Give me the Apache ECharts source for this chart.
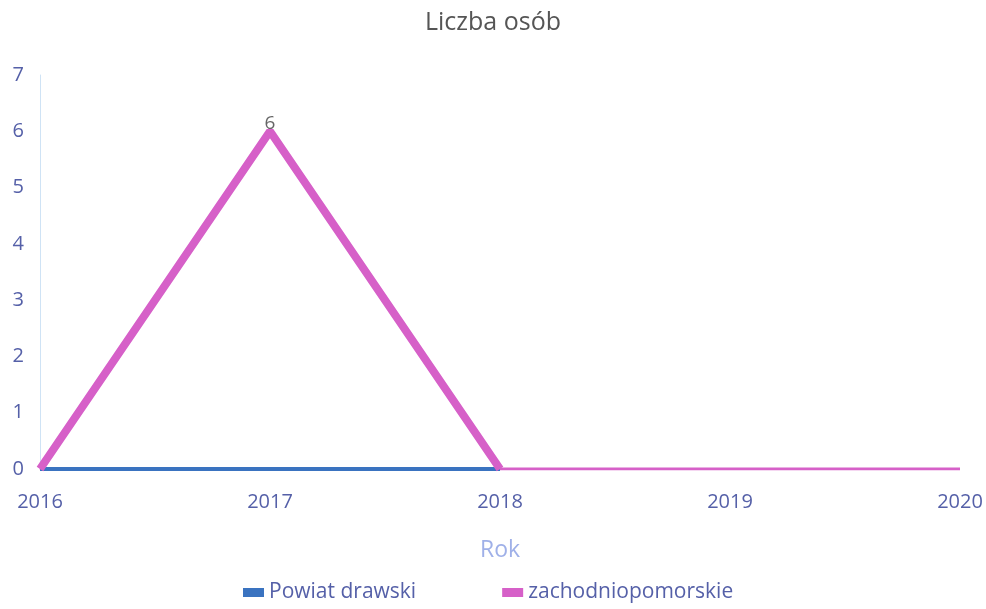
<!DOCTYPE html>
<html><head><meta charset="utf-8">
<script src="https://cdn.jsdelivr.net/npm/echarts@6/dist/echarts.min.js"></script>
<style>html,body{margin:0;padding:0;background:#fff}#c{width:986px;height:609px}</style>
</head><body><div id="c"></div>
<script>
const years = ['2016','2017','2018','2019','2020'];
const powiat = [0, 0, 0, null, null];
const zachodnioA = [0, 6, 0, null, null];
const zachodnioB = [null, null, 0, 0, 0];
const yTicks = [0,1,2,3,4,5,6,7];

const chart = echarts.init(document.getElementById('c'));
chart.setOption({
  animation:false,
  title:{text:'Liczba osób', left:'center', top:5, textStyle:{fontFamily:'Open Sans', fontSize:25, fontWeight:'normal', color:'#555'}},
  grid:{left:40, right:26, top:75, bottom:140},
  legend:{bottom:1, left:238, itemGap:86, itemWidth:21, itemHeight:9, icon:'rect',
    data:['Powiat drawski','zachodniopomorskie'],
    textStyle:{fontFamily:'Open Sans', fontSize:21, color:'#5560a8'}},
  xAxis:{type:'category', data:years, boundaryGap:false, name:'Rok', nameLocation:'middle', nameGap:70,
    nameTextStyle:{fontFamily:'Open Sans', fontSize:23, color:'#9fb0e8'},
    axisLine:{show:false}, axisTick:{show:false},
    axisLabel:{fontFamily:'Open Sans', fontSize:20, color:'#5560a8', margin:23}},
  yAxis:{type:'value', min:0, max:7, interval:1,
    axisLine:{show:true, lineStyle:{color:'#cfe3f5', width:1}}, axisTick:{show:false},
    splitLine:{show:false},
    axisLabel:{fontFamily:'Open Sans', fontSize:20, color:'#5560a8', margin:16}},
  series:[
    {name:'zachodniopomorskie', type:'line', data:zachodnioB, showSymbol:false, symbol:'none',
      lineStyle:{color:'#d660c8', width:3}, itemStyle:{color:'#d660c8'}, z:1},
    {name:'Powiat drawski', type:'line', data:powiat, showSymbol:false, symbol:'none',
      lineStyle:{color:'#3a73c0', width:4}, itemStyle:{color:'#3a73c0'}, z:2},
    {name:'zachodniopomorskie', type:'line', data:zachodnioA, symbol:'circle', symbolSize:1,
      lineStyle:{color:'#d660c8', width:8}, itemStyle:{color:'#d660c8'}, z:3,
      label:{show:true, position:'top', distance:-2, fontFamily:'Open Sans', fontSize:19, color:'#666',
        formatter:p=>p.value>0?p.value:''}}
  ]
});
</script></body></html>
